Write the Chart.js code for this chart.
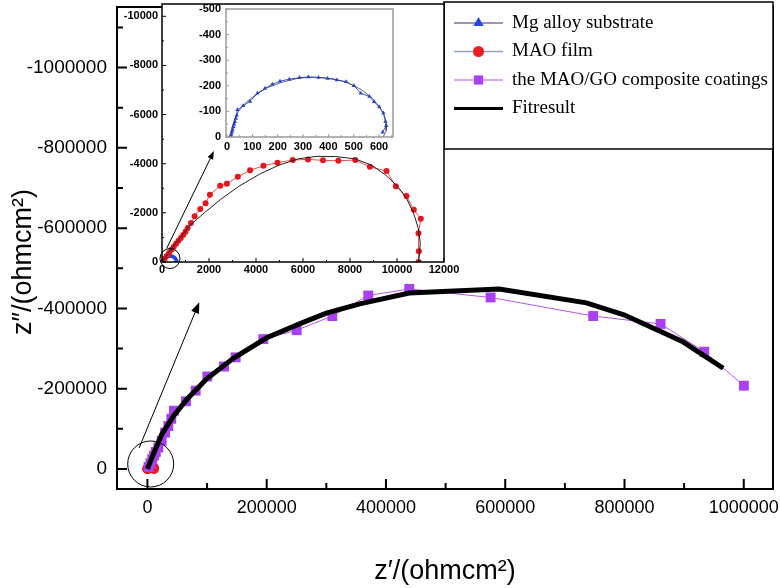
<!DOCTYPE html>
<html>
<head>
<meta charset="utf-8">
<script src="https://cdn.jsdelivr.net/npm/chart.js@4.4.1/dist/chart.umd.min.js"></script>
<style>
  body { margin: 0; background: #fff; }
  #wrap { position: relative; width: 780px; height: 588px; }
  canvas { position: absolute; left: 0; top: 0; }
</style>
</head>
<body>
<div id="wrap">
  <canvas id="mainChart" width="780" height="588"></canvas>
  <canvas id="inset1" width="780" height="588"></canvas>
  <canvas id="inset2" width="780" height="588"></canvas>
</div>
<script>
// series names (legend)
const seriesNames = ['Mg alloy substrate', 'MAO film', 'the MAO/GO composite coatings', 'Fitresult'];

// Mg alloy substrate, Z' and Z'' (ohm cm2)
const mgRe = [14, 16, 18, 20, 22, 25, 28, 31, 35, 38, 41, 64, 91, 120, 150, 179, 209, 246, 286, 321, 361, 397, 433, 470, 501, 528, 562, 580, 601, 617, 625, 628, 614];
const mgIm = [-2, -8, -15, -22, -30, -40, -50, -60, -72, -85, -106, -122, -139, -171, -190, -206, -218, -226, -232, -234, -232, -229, -223, -216, -200, -171, -158, -138, -117, -94, -61, -44, -19];
const mgFitRe = [14, 20, 30, 45, 70, 110, 160, 220, 280, 330, 380, 430, 480, 530, 570, 600, 620, 630, 628, 616];
const mgFitIm = [0, -35, -70, -100, -130, -163, -193, -215, -229, -234, -232, -225, -210, -185, -155, -120, -85, -50, -25, 0];

// MAO film
const maoRe = [60, 120, 200, 300, 400, 500, 600, 700, 800, 900, 1000, 1090, 1231, 1387, 1628, 1854, 2038, 2477, 2760, 3227, 3751, 4317, 4911, 5563, 6214, 6851, 7502, 8224, 8846, 9554, 9950, 10403, 10715, 11012, 10913, 10927, 10913];
const maoIm = [-60, -140, -240, -370, -500, -620, -740, -860, -980, -1100, -1230, -1383, -1586, -1858, -2156, -2387, -2739, -3105, -3186, -3471, -3729, -3919, -4041, -4149, -4176, -4136, -4122, -4149, -3878, -3702, -3078, -2685, -2129, -1763, -1166, -434, 0];
const maoFitRe = [0, 300, 700, 1200, 1800, 2500, 3300, 4200, 5000, 5800, 6600, 7400, 8200, 8900, 9500, 10000, 10400, 10700, 10900, 10990, 10960, 10900];
const maoFitIm = [0, -400, -900, -1500, -2000, -2550, -3100, -3600, -3950, -4200, -4300, -4290, -4200, -3950, -3550, -3100, -2600, -2000, -1400, -800, -300, 0];

// MAO/GO composite coatings
const goRe = [2000, 5000, 8000, 11000, 14000, 18300, 23900, 29500, 35100, 40000, 44500, 64700, 80900, 100500, 128400, 148000, 194300, 250300, 310000, 370300, 439100, 575500, 747500, 860500, 933700, 1000200];
const goIm = [-5000, -14000, -24000, -33000, -42000, -53300, -69900, -90400, -106900, -125000, -145000, -168600, -195000, -230400, -255100, -278000, -323500, -345700, -381000, -432100, -448400, -427200, -381000, -361200, -292100, -207400];
const goFitRe = [0, 10000, 24000, 43500, 66000, 99400, 144000, 200000, 256000, 300000, 356000, 439000, 590000, 736000, 799000, 898000, 965500];
const goFitIm = [0, -37000, -86000, -131600, -173000, -224700, -275600, -326700, -362000, -388000, -411400, -438500, -448400, -413800, -384200, -316800, -250900];

// tick values
const mainXMajor = [0, 200000, 400000, 600000, 800000, 1000000];
const mainXMinor = [100000, 300000, 500000, 700000, 900000];
const mainYMajor = [0, -200000, -400000, -600000, -800000, -1000000];
const mainYMinor = [-100000, -300000, -500000, -700000, -900000, -1100000];
const in1XMajor = [0, 2000, 4000, 6000, 8000, 10000, 12000];
const in1XMinor = [1000, 3000, 5000, 7000, 9000, 11000];
const in1YMajor = [0, -2000, -4000, -6000, -8000, -10000];
const in1YMinor = [-1000, -3000, -5000, -7000, -9000];
const in2XMajor = [0, 100, 200, 300, 400, 500, 600];
const in2XMinor = [50, 150, 250, 350, 450, 550, 650];
const in2YMajor = [0, -100, -200, -300, -400, -500];
const in2YMinor = [-50, -150, -250, -350, -450];

// zoom markers (data units): circle centre and arrow ends
const mainCircle = [5500, -12300];
const mainArrow = [[-14000, -52000], [87000, -415600]];
const in1Circle = [340, -140];
const in1Arrow = [[200, -553], [2208, -4513]];

const xy = (xs, ys) => xs.map((v, i) => ({ x: v, y: ys[i] }));

function drawArrow(ctx, x0, y0, x1, y1, head) {
    const a = Math.atan2(y1 - y0, x1 - x0);
    const c = Math.cos(a), s = Math.sin(a);
    ctx.beginPath();
    ctx.moveTo(x0, y0);
    ctx.lineTo(x1 - c * head * 0.8, y1 - s * head * 0.8);
    ctx.stroke();
    ctx.beginPath();
    ctx.moveTo(x1, y1);
    ctx.lineTo(x1 - head * c + head * 0.38 * s, y1 - head * s - head * 0.38 * c);
    ctx.lineTo(x1 - head * c - head * 0.38 * s, y1 - head * s + head * 0.38 * c);
    ctx.closePath();
    ctx.fill();
}

// white plot background, inward ticks, frame, zoom marks
const framePlugin = {
    id: 'frame',
    beforeDraw(chart, args, o) {
        const { ctx, chartArea: a } = chart;
        if (o.bg) {
            ctx.save();
            ctx.fillStyle = o.bg;
            ctx.fillRect(a.left, a.top, a.right - a.left, a.bottom - a.top);
            ctx.restore();
        }
    },
    afterDraw(chart, args, o) {
        const { ctx, chartArea: a, scales: { x, y } } = chart;
        ctx.save();
        ctx.strokeStyle = o.color;
        ctx.lineWidth = o.tickWidth;
        ctx.beginPath();
        const tx = (vals, len) => vals.forEach(v => {
            const p = x.getPixelForValue(v);
            ctx.moveTo(p, a.bottom); ctx.lineTo(p, a.bottom - len);
        });
        const ty = (vals, len) => vals.forEach(v => {
            const p = y.getPixelForValue(v);
            ctx.moveTo(a.left, p); ctx.lineTo(a.left + len, p);
        });
        tx(o.xMajor, o.major); tx(o.xMinor, o.minor);
        ty(o.yMajor, o.major); ty(o.yMinor, o.minor);
        ctx.stroke();

        ctx.lineWidth = o.width;
        ctx.strokeRect(a.left, a.top, a.right - a.left, a.bottom - a.top);

        if (o.circle) {
            ctx.lineWidth = 1;
            ctx.strokeStyle = '#000';
            ctx.beginPath();
            ctx.arc(x.getPixelForValue(o.circle[0]), y.getPixelForValue(o.circle[1]), o.circleR, 0, Math.PI * 2);
            ctx.stroke();
        }
        if (o.arrow) {
            ctx.lineWidth = 1;
            ctx.strokeStyle = '#000';
            ctx.fillStyle = '#000';
            drawArrow(ctx,
                x.getPixelForValue(o.arrow[0][0]), y.getPixelForValue(o.arrow[0][1]),
                x.getPixelForValue(o.arrow[1][0]), y.getPixelForValue(o.arrow[1][1]), o.head);
        }
        ctx.restore();
    }
};

// boxed legend in the top right corner
const legendBox = {
    id: 'legendBox',
    afterDraw(chart, args, o) {
        const ctx = chart.ctx;
        ctx.save();
        ctx.fillStyle = '#fff';
        ctx.fillRect(o.left, o.top, o.right - o.left, o.bottom - o.top);
        ctx.strokeStyle = '#000';
        ctx.lineWidth = 1.5;
        ctx.strokeRect(o.left, o.top, o.right - o.left, o.bottom - o.top);
        o.items.forEach((it, i) => {
            const yy = o.firstRow + i * o.rowGap;
            ctx.strokeStyle = it.line;
            ctx.lineWidth = it.lineWidth;
            ctx.beginPath();
            ctx.moveTo(o.lineX0, yy);
            ctx.lineTo(o.lineX1, yy);
            ctx.stroke();
            if (it.style) {
                ctx.fillStyle = it.color;
                ctx.strokeStyle = it.color;
                Chart.helpers.drawPoint(ctx, { pointStyle: it.style, radius: it.r, rotation: 0, borderWidth: 0 },
                    (o.lineX0 + o.lineX1) / 2, yy);
            }
            ctx.fillStyle = '#000';
            ctx.font = o.font;
            ctx.textBaseline = 'middle';
            ctx.textAlign = 'left';
            ctx.fillText(seriesNames[i], o.textX, yy);
        });
        ctx.restore();
    }
};

function axis(o) {
    return {
        type: 'linear',
        min: o.min,
        max: o.max,
        reverse: !!o.reverse,
        grid: { display: false, drawTicks: false },
        border: { display: false },
        afterBuildTicks: s => { s.ticks = o.ticks.map(v => ({ value: v })); },
        afterFit: s => {
            if (o.width != null) s.width = o.width;
            if (o.height != null) s.height = o.height;
            // labels may hang over the plot edges, keep the plot box fixed
            s.paddingTop = 0; s.paddingBottom = 0; s.paddingLeft = 0; s.paddingRight = 0;
        },
        ticks: {
            autoSkip: false,
            maxRotation: 0,
            minRotation: 0,
            padding: o.pad,
            color: '#000',
            font: o.font,
            callback: v => String(v)
        },
        title: o.title || { display: false }
    };
}

const baseOpts = {
    responsive: false,
    animation: false,
    events: [],
    plugins: { legend: { display: false }, tooltip: { enabled: false } }
};

const sansX = { family: "'Liberation Sans', Arial, sans-serif", size: 18 };
const sansY = { family: "'Liberation Sans', Arial, sans-serif", size: 19 };
const sansBold = { family: "'Liberation Sans', Arial, sans-serif", size: 11, weight: 'bold' };
const titleFont = { family: "'Liberation Sans', Arial, sans-serif", size: 27 };

// main chart
new Chart(document.getElementById('mainChart'), {
    type: 'scatter',
    data: {
        datasets: [
            { data: xy(goFitRe, goFitIm), showLine: true, borderColor: '#000', borderWidth: 5, pointRadius: 0 },
            { data: xy(goRe, goIm), showLine: true, borderColor: '#b455e6', borderWidth: 1,
              pointStyle: 'rect', pointRadius: 7, pointBackgroundColor: '#a940f2', pointBorderWidth: 0 },
            { data: xy(maoRe, maoIm), showLine: false, pointRadius: 5, pointBackgroundColor: '#ec1c24', pointBorderWidth: 0 },
            { data: xy(mgRe, mgIm), showLine: false, pointStyle: 'triangle', pointRadius: 4, pointBackgroundColor: '#2447e0', pointBorderWidth: 0 }
        ]
    },
    options: {
        ...baseOpts,
        layout: { padding: { top: 2, right: 7, left: 0, bottom: 0 } },
        scales: {
            x: axis({ min: -51000, max: 1049000, ticks: mainXMajor, height: 99, pad: 8, font: sansX,
                title: { display: true, text: 'z\u2032/(ohmcm\u00b2)', color: '#000', font: titleFont, padding: { top: 0, bottom: 0 } } }),
            // trailing spaces nudge the rotated title a little lower, as in the original
            y: axis({ min: -1151000, max: 50000, reverse: true, ticks: mainYMajor, width: 117, pad: 10, font: sansY,
                title: { display: true, text: 'z\u2033/(ohmcm\u00b2)   \u2009', color: '#000', font: titleFont, padding: { top: 7, bottom: 0 } } })
        },
        plugins: {
            ...baseOpts.plugins,
            frame: { color: '#000', width: 2, tickWidth: 2, major: 10, minor: 6,
                xMajor: mainXMajor, xMinor: mainXMinor, yMajor: mainYMajor, yMinor: mainYMinor,
                circle: mainCircle, circleR: 23, arrow: mainArrow, head: 11 },
            legendBox: {
                left: 444, top: 2, right: 773, bottom: 149,
                firstRow: 23, rowGap: 28.5, lineX0: 454, lineX1: 503, textX: 512,
                font: "19px 'Liberation Serif', 'Times New Roman', serif",
                items: [
                    { line: '#2c3470', lineWidth: 1, style: 'triangle', r: 6, color: '#2447e0' },
                    { line: '#93a3cf', lineWidth: 1.5, style: 'circle', r: 5.5, color: '#ec1c24' },
                    { line: '#b455e6', lineWidth: 1, style: 'rect', r: 6.5, color: '#a940f2' },
                    { line: '#000', lineWidth: 3, style: false }
                ]
            }
        }
    },
    plugins: [framePlugin, legendBox]
});

// first inset: MAO film and substrate
new Chart(document.getElementById('inset1'), {
    type: 'scatter',
    data: {
        datasets: [
            { data: xy(maoFitRe, maoFitIm), showLine: true, borderColor: '#222', borderWidth: 1, pointRadius: 0 },
            { data: xy(maoRe, maoIm), showLine: true, borderColor: '#e85050', borderWidth: 1,
              pointRadius: 3, pointBackgroundColor: '#e8141c', pointBorderWidth: 0 },
            { data: xy(mgRe, mgIm), showLine: true, borderColor: '#2447e0', borderWidth: 1,
              pointStyle: 'triangle', pointRadius: 2.5, pointBackgroundColor: '#2447e0', pointBorderWidth: 0 }
        ]
    },
    options: {
        ...baseOpts,
        layout: { padding: { top: 2, right: 336, left: 0, bottom: 0 } },
        scales: {
            x: axis({ min: 0, max: 12000, ticks: in1XMajor, height: 326, pad: 1, font: sansBold }),
            y: axis({ min: -10500, max: 0, reverse: true, ticks: in1YMajor, width: 162, pad: 4, font: sansBold })
        },
        plugins: {
            ...baseOpts.plugins,
            frame: { bg: '#fff', color: '#000', width: 1.5, tickWidth: 1, major: 4, minor: 2,
                xMajor: in1XMajor, xMinor: in1XMinor, yMajor: in1YMajor, yMinor: in1YMinor,
                circle: in1Circle, circleR: 10, arrow: in1Arrow, head: 8 }
        }
    },
    plugins: [framePlugin]
});

// second inset: Mg alloy substrate
new Chart(document.getElementById('inset2'), {
    type: 'scatter',
    data: {
        datasets: [
            { data: xy(mgFitRe, mgFitIm), showLine: true, borderColor: '#3a3f66', borderWidth: 0.8, pointRadius: 0 },
            { data: xy(mgRe, mgIm), showLine: true, borderColor: '#3a58d8', borderWidth: 1,
              pointStyle: 'triangle', pointRadius: 2.5, pointBackgroundColor: '#2447e0', pointBorderWidth: 0 }
        ]
    },
    options: {
        ...baseOpts,
        layout: { padding: { top: 9, right: 387, left: 0, bottom: 0 } },
        scales: {
            x: axis({ min: -4, max: 655, ticks: in2XMajor, height: 451, pad: 3, font: sansBold }),
            y: axis({ min: -500, max: 0, reverse: true, ticks: in2YMajor, width: 226, pad: 5, font: sansBold })
        },
        plugins: {
            ...baseOpts.plugins,
            frame: { bg: '#fff', color: '#9a9a9a', width: 1.5, tickWidth: 1, major: 3, minor: 2,
                xMajor: in2XMajor, xMinor: in2XMinor, yMajor: in2YMajor, yMinor: in2YMinor }
        }
    },
    plugins: [framePlugin]
});
</script>
</body>
</html>
